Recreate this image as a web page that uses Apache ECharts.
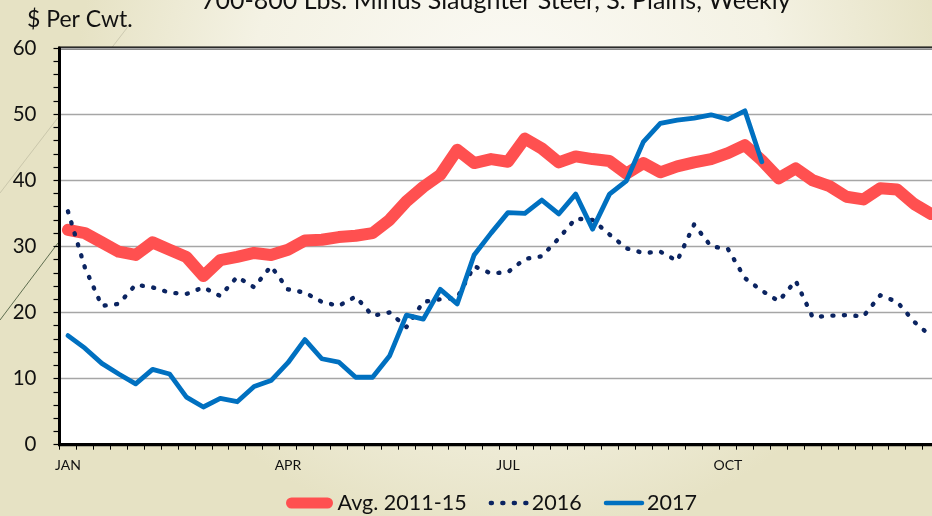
<!DOCTYPE html>
<html>
<head>
<meta charset="utf-8">
<script src="https://cdn.jsdelivr.net/npm/echarts@6/dist/echarts.min.js"></script>
<style>
html,body{margin:0;padding:0;width:932px;height:516px;overflow:hidden;}
#chart{width:932px;height:516px;}
</style>
</head>
<body>
<div id="chart"></div>
<script>
var titleText = '700-800 Lbs. Minus Slaughter Steer, S. Plains, Weekly';
var yAxisTitle = '$ Per Cwt.';
var weeks = [1,2,3,4,5,6,7,8,9,10,11,12,13,14,15,16,17,18,19,20,21,22,23,24,25,26,
             27,28,29,30,31,32,33,34,35,36,37,38,39,40,41,42,43,44,45,46,47,48,49,50,51,52];
var monthLabels = {1:'JAN', 14:'APR', 27:'JUL', 40:'OCT'};
var yTicks = [0,10,20,30,40,50,60];

var avg2011_15 = [32.5,32.0,30.6,29.2,28.7,30.6,29.5,28.4,25.5,27.9,28.4,29.0,28.7,29.5,30.9,31.0,31.4,31.6,32.0,34.0,
                  36.8,39.0,40.8,44.6,42.6,43.2,42.8,46.3,44.8,42.7,43.6,43.2,42.9,41.0,42.6,41.2,42.1,42.7,43.2,44.1,
                  45.3,43.0,40.3,41.8,40.0,39.1,37.5,37.1,38.8,38.6,36.4,34.9];
var y2016 = [35.3,26.8,21.0,21.3,24.2,23.8,23.0,22.8,23.8,22.5,25.4,23.8,27.0,23.5,23.0,21.6,21.0,22.4,19.5,20.0,
             17.8,21.6,22.0,22.2,27.0,25.9,26.1,28.1,28.5,31.2,34.2,34.0,31.8,29.7,29.0,29.2,27.8,33.3,30.0,29.6,
             25.2,23.3,21.7,24.8,19.3,19.5,19.6,19.4,22.6,21.6,18.6,16.4];
var y2017 = [16.5,14.6,12.3,10.7,9.2,11.4,10.7,7.2,5.7,7.0,6.5,8.8,9.7,12.4,15.9,13.0,12.5,10.2,10.2,13.4,
             19.6,19.0,23.5,21.3,28.7,32.0,35.1,35.0,37.0,34.9,37.9,32.6,37.9,39.9,45.8,48.6,49.1,49.4,49.9,49.2,
             50.5,42.8];
var seriesNames = ['Avg. 2011-15','2016','2017'];

var FONT = 'Lato, "Open Sans", sans-serif';
var HIDE = {color:'rgba(0,0,0,0)', borderWidth:0, opacity:0};
var chart = echarts.init(document.getElementById('chart'), null, {renderer:'canvas'});
chart.setOption({
  animation: false,
  backgroundColor: {
    type: 'radial', x: 0.55, y: 0.2, r: 0.85,
    colorStops: [{offset:0,color:'#fbfaf5'},{offset:0.6,color:'#f4f2e4'},{offset:1,color:'#e6e2c4'}]
  },
  title: {
    text: titleText, left: 196, top: -17,
    textStyle: {fontFamily: FONT, fontSize: 25, fontWeight: 'normal', color: '#111'}
  },
  graphic: [
    {type:'text', left: 27, top: 8, z: 10,
     style:{text: yAxisTitle, font: '23px ' + FONT, fill:'#111'}},
    {type:'line', shape:{x1:0,y1:193,x2:130,y2:24}, style:{stroke:'rgba(120,120,100,0.25)', lineWidth:1}, z:-1},
    {type:'line', shape:{x1:0,y1:320,x2:58,y2:243}, style:{stroke:'rgba(60,80,50,0.8)', lineWidth:1}, z:-1}
  ],
  legend: {
    left: 281, top: 487,
    itemWidth: 36, itemHeight: 14, itemGap: 22,
    textStyle: {fontFamily: FONT, fontSize: 21.5, color: '#111'},
    data: [
      {name: seriesNames[0], itemStyle: HIDE, lineStyle:{width:11, cap:'round', color:'#ff5050'}, textStyle:{padding:[0,0,0,5]}},
      {name: seriesNames[1], itemStyle: HIDE, lineStyle:{width:4.5, cap:'round', type:[1,10.5], color:'#0b2461'}},
      {name: seriesNames[2], itemStyle: HIDE, lineStyle:{width:4.5, cap:'round', color:'#0070c0'}}
    ]
  },
  grid: {
    left: 59.5, top: 48, width: 880, height: 396.7,
    outerBoundsMode: 'none', containLabel: false,
    show: true, backgroundColor: '#ffffff', borderColor: '#000', borderWidth: 3
  },
  xAxis: {
    type: 'category', data: weeks, boundaryGap: true,
    axisLine: {lineStyle:{color:'#000', width:3}},
    axisTick: {show:true, interval:0, length:5, inside:false, lineStyle:{color:'#000', width:1}},
    axisLabel: {
      interval: function(i){ return monthLabels[weeks[i]] !== undefined; },
      formatter: function(v){ return monthLabels[v] || ''; },
      fontFamily: FONT, fontSize: 14, color: '#111', margin: 14
    },
    splitLine: {show:false}
  },
  yAxis: {
    type: 'value', min: yTicks[0], max: yTicks[yTicks.length-1], interval: 10,
    axisLine: {show:true, lineStyle:{color:'#000', width:3}},
    axisTick: {show:true, length:6, lineStyle:{color:'#000', width:1.2}},
    minorTick: {show:true, splitNumber:5, length:6, lineStyle:{color:'#000', width:1.2}},
    axisLabel: {fontFamily: FONT, fontSize: 20.5, color: '#111', margin: 23},
    splitLine: {show:true, lineStyle:{color:'#a6a6a6', width:1.3}}
  },
  series: [
    {name: seriesNames[0], type:'line', data: avg2011_15, symbol:'none', z: 2,
     lineStyle:{color:'#ff5050', width:12, cap:'round', join:'round'}, itemStyle:{color:'#ff5050'}},
    {name: seriesNames[1], type:'line', data: y2016, symbol:'none', z: 3,
     lineStyle:{color:'#0b2461', width:4.4, type:[1,10.5], cap:'round', join:'round'}, itemStyle:{color:'#0b2461'}},
    {name: seriesNames[2], type:'line', data: y2017, symbol:'none', z: 4,
     lineStyle:{color:'#0070c0', width:4.8, cap:'round', join:'round'}, itemStyle:{color:'#0070c0'}}
  ]
});
</script>
</body>
</html>
